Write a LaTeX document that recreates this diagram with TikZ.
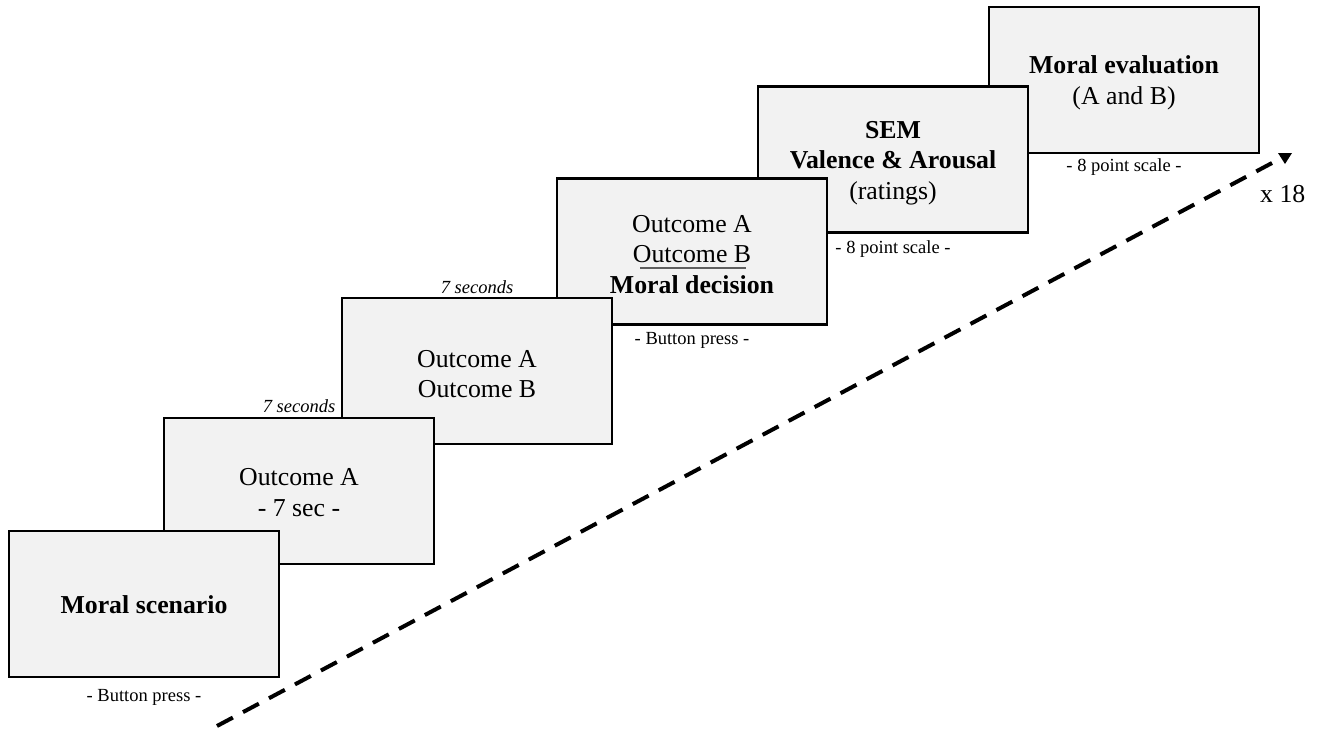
\documentclass[tikz,border=0pt]{standalone}
\usepackage{fontspec}
\setmainfont{Liberation Serif}
\usetikzlibrary{calc}
\definecolor{screenfill}{RGB}{242,242,242}
\definecolor{rulegray}{RGB}{95,95,95}
\begin{document}
\begin{tikzpicture}[x=1bp,y=-1bp,
  screen/.style={draw=black, line width=2.6bp, fill=screenfill,
    minimum width=270bp, minimum height=146bp, inner sep=0pt, outer sep=0pt},
  body/.style={align=center, font=\fontsize{25.8bp}{30.5bp}\selectfont, inner sep=0pt},
  note/.style={font=\fontsize{18.5bp}{20bp}\selectfont, inner sep=0pt, anchor=base},
  timing/.style={font=\fontsize{18.5bp}{20bp}\selectfont\itshape, inner sep=0pt, anchor=base},
  trialline/.style={line width=4bp, dash pattern=on 18bp off 11.45bp},
]
\useasboundingbox (0,0) rectangle (1318,729);

% screens, back to front
\node[screen] (b6) at (1124,80) {};
\node[body] (t6) at ([yshift=-3bp]b6.center) {\textbf{Moral evaluation}\\(A and B)};
\node[note] (n6) at ([yshift=-18bp]b6.south) {- 8 point scale -};

\node[screen] (b5) at (893,159.5) {};
\node[body] (t5) at ([yshift=-3.5bp]b5.center) {\textbf{SEM}\\\textbf{Valence \& Arousal}\\(ratings)};
\node[note] (n5) at ([yshift=-20.5bp]b5.south) {- 8 point scale -};

\node[screen] (b4) at (692,251.5) {};
\node[body] (t4) at ([yshift=-3bp]b4.center) {Outcome A\\Outcome B\\\textbf{Moral decision}};
\draw[rulegray, line width=1.4bp] ($(b4.center)+(-52,16.5)$) -- ($(b4.center)+(54,16.5)$);
\node[note] (n4) at ([yshift=-20bp]b4.south) {- Button press -};

\node[screen] (b3) at (477,371) {};
\node[body] (t3) at ([yshift=-3bp]b3.center) {Outcome A\\Outcome B};
\node[timing] (s3) at ([yshift=5bp]b3.north) {7 seconds};

\node[screen] (b2) at (299,491) {};
\node[body] (t2) at ([yshift=-1.5bp]b2.center) {Outcome A\\- 7 sec -};
\node[timing] (s2) at ([yshift=6bp]b2.north) {7 seconds};

\node[screen] (b1) at (144,604) {};
\node[body] (t1) at ([yshift=-1bp]b1.center) {\textbf{Moral scenario}};
\node[note] (n1) at ([yshift=-24bp]b1.south) {- Button press -};

% repetition arrow
\coordinate (trialstart) at (217,726);
\coordinate (trialend) at (1272,163);
\coordinate (tip) at (1285,158.5);
\draw[trialline] (trialstart) -- (trialend);
\fill ($(tip)+(-7,-5.5)$) -- ($(tip)+(7,-5.5)$) -- ($(tip)+(0,5.5)$) -- cycle;
\node[body, anchor=base west] (reps) at (1260,202) {x 18};
\end{tikzpicture}
\end{document}
